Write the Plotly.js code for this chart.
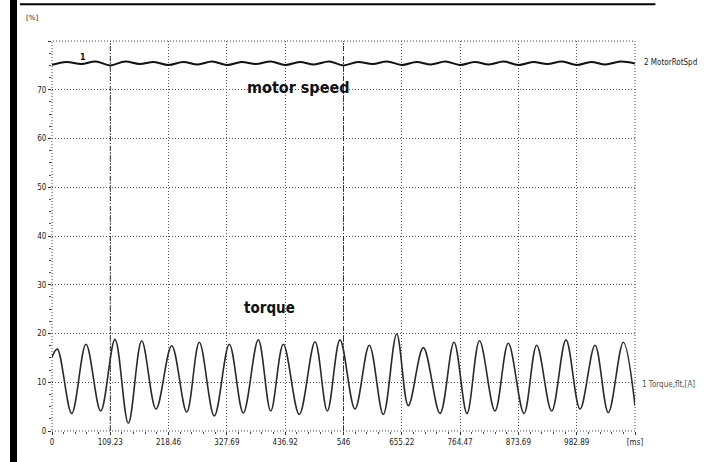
<!DOCTYPE html>
<html>
<head>
<meta charset="utf-8">
<script src="https://cdn.plot.ly/plotly-3.0.1.min.js"></script>
<style>
  html, body { margin: 0; padding: 0; background: #ffffff; }
  #chart { width: 715px; height: 462px; }
</style>
</head>
<body>
<div id="chart"></div>
<script>
// ---- data ----
const torqueTime = [0, 9.9, 36.9, 63.7, 91.2, 118.0, 143.0, 168.1, 194.9, 224.3, 252.4, 276.0, 304.1, 332.2,
  358.4, 386.5, 409.8, 433.4, 463.3, 492.8, 515.8, 539.6, 567.7, 594.5, 620.7, 645.8, 667.6, 695.7,
  727.0, 753.2, 777.5, 801.0, 830.0, 854.9, 884.3, 908.1, 936.2, 963.0, 989.3, 1017.4, 1042.3, 1070.4, 1092.3];
const torque = [15.2, 16.8, 3.6, 17.8, 4.1, 18.8, 1.6, 18.5, 4.5, 17.5, 3.9, 18.2, 3.1, 17.8,
  3.7, 18.7, 4.1, 17.8, 3.4, 18.3, 4.1, 18.7, 4.5, 17.6, 3.4, 19.9, 5.2, 17.1,
  3.6, 18.2, 3.6, 18.5, 4.1, 18.0, 3.6, 17.6, 4.1, 18.7, 4.5, 17.6, 3.8, 18.2, 5.2];

const speedTime = [0, 27, 55, 82, 109, 137, 164, 191, 218, 246, 273, 300, 328, 355, 382, 410, 437, 464, 491, 519,
  546, 573, 601, 628, 655, 683, 710, 737, 764, 792, 819, 846, 874, 901, 928, 956, 983, 1010, 1037, 1065, 1092];
const speed = [75.1, 75.7, 75.3, 75.8, 75.0, 75.8, 75.3, 75.7, 75.1, 75.7, 75.2, 75.8, 75.1, 75.7, 75.3, 75.8, 75.1, 75.7, 75.2, 75.8,
  75.0, 75.7, 75.3, 75.8, 75.1, 75.7, 75.2, 75.8, 75.1, 75.7, 75.2, 75.8, 75.1, 75.7, 75.3, 75.8, 75.1, 75.7, 75.2, 75.8, 75.4];

const xTickVals = [0, 109.23, 218.46, 327.69, 436.92, 546.15, 655.38, 764.61, 873.84, 983.07, 1092.3];
const xTickText = ["0", "109.23", "218.46", "327.69", "436.92", "546", "655.22", "764.47", "873.69", "982.89", "[ms]"];
const yTickVals = [0, 10, 20, 30, 40, 50, 60, 70, 80];
const yTickText = ["0", "10", "20", "30", "40", "50", "60", "70", ""];

const speedName = "2 MotorRotSpd";
const torqueName = "1 Torque,flt,[A]";

// ---- chart ----
const traces = [
  {
    x: speedTime, y: speed, type: "scatter", mode: "lines", name: speedName,
    line: { color: "#111111", width: 2, shape: "spline", smoothing: 1 }
  },
  {
    x: torqueTime, y: torque, type: "scatter", mode: "lines", name: torqueName,
    line: { color: "#2a2a2a", width: 1.6, shape: "spline", smoothing: 1 }
  }
];

const tickFont = { family: "DejaVu Sans Condensed, DejaVu Sans", size: 8, color: "#222222" };

const layout = {
  width: 715, height: 462,
  margin: { l: 52, r: 80, t: 41, b: 31, pad: 0 },
  paper_bgcolor: "#ffffff", plot_bgcolor: "#ffffff",
  showlegend: false,
  xaxis: {
    range: [0, 1092.3], tickmode: "array", tickvals: xTickVals, ticktext: xTickText,
    tickfont: tickFont, ticks: "outside", ticklen: 3, tickcolor: "#333",
    showgrid: true, gridcolor: "#555555", gridwidth: 1, griddash: "1px,2px",
    zeroline: false, showline: false,
    minor: { dtick: 21.846, tick0: 0, ticks: "outside", ticklen: 2, tickcolor: "#444", showgrid: false }
  },
  yaxis: {
    range: [0, 80], tickmode: "array", tickvals: yTickVals, ticktext: yTickText,
    tickfont: tickFont, ticks: "outside", ticklen: 3, tickcolor: "#333",
    showgrid: true, gridcolor: "#555555", gridwidth: 1, griddash: "1px,2px",
    zeroline: false, showline: false,
    minor: { dtick: 2.5, tick0: 0, ticks: "outside", ticklen: 2, tickcolor: "#444", showgrid: false }
  },
  shapes: [
    { type: "rect", xref: "paper", yref: "paper", x0: 0, x1: 1, y0: 0, y1: 1,
      line: { color: "#444", width: 1, dash: "1px,2px" } },
    { type: "line", xref: "x", yref: "paper", x0: 109.23, x1: 109.23, y0: 0, y1: 1,
      line: { color: "#333", width: 1, dash: "5px,2px,1px,2px" } },
    { type: "line", xref: "x", yref: "paper", x0: 546.15, x1: 546.15, y0: 0, y1: 1,
      line: { color: "#333", width: 1, dash: "5px,2px,1px,2px" } },
    // scan frame: left black band and top rule
    { type: "rect", xref: "paper", yref: "paper", x0: -0.072, x1: -0.06, y0: -0.08, y1: 1.105,
      fillcolor: "#000", line: { width: 0 } },
    { type: "line", xref: "paper", yref: "paper", x0: -0.055, x1: 1.035, y0: 1.094, y1: 1.094,
      line: { color: "#000", width: 2 } }
  ],
  annotations: [
    { text: "[%]", xref: "paper", yref: "paper", x: -0.035, y: 1.06, showarrow: false,
      font: { family: "DejaVu Sans", size: 7, color: "#222" }, xanchor: "center", yanchor: "middle" },
    { text: "<b>motor speed</b>", xref: "x", yref: "y", x: 460, y: 70.5, showarrow: false,
      font: { family: "DejaVu Sans Condensed", size: 16, color: "#111" }, xanchor: "center", yanchor: "middle" },
    { text: "<b>torque</b>", xref: "x", yref: "y", x: 408, y: 25.2, showarrow: false,
      font: { family: "DejaVu Sans Condensed", size: 15, color: "#111" }, xanchor: "center", yanchor: "middle" },
    { text: speedName, xref: "paper", yref: "y", x: 1.012, y: 75.6, showarrow: false,
      font: { family: "DejaVu Sans Condensed", size: 8, color: "#222" }, xanchor: "left", yanchor: "middle" },
    { text: torqueName, xref: "paper", yref: "y", x: 1.008, y: 9.6, showarrow: false,
      font: { family: "DejaVu Sans Condensed", size: 8, color: "#555" }, xanchor: "left", yanchor: "middle" },
    { text: "<b>1</b>", xref: "x", yref: "y", x: 58, y: 76.7, showarrow: false,
      font: { family: "DejaVu Sans", size: 8, color: "#111" }, xanchor: "center", yanchor: "middle" }
  ]
};

Plotly.newPlot("chart", traces, layout, { staticPlot: true, displayModeBar: false });
</script>
</body>
</html>
